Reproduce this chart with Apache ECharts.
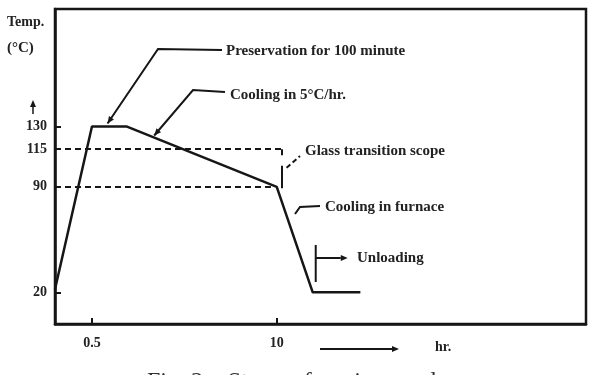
<!DOCTYPE html>
<html>
<head>
<meta charset="utf-8">
<script src="https://cdn.jsdelivr.net/npm/echarts@6/dist/echarts.min.js"></script>
<style>
html,body{margin:0;padding:0;background:#fff}
#main{width:594px;height:375px}
</style>
</head>
<body>
<div id="main"></div>
<script>
// curing cycle: time (hr) / temperature (°C)
var hours = [-1.4, 0.5, 2.3, 10, 11.85, 14.3];
var temps = [22, 130, 130, 90, 20, 20];
var yTicks = [20, 90, 115, 130];
var xTicks = [0.5, 10];
var glassTop = 115, glassBottom = 90;
var notes = ['Preservation for 100 minute', 'Cooling in 5°C/hr.', 'Glass transition scope', 'Cooling in furnace', 'Unloading'];

var xMin = -1.4, xMax = 25.9, yMin = -1, yMax = 208;
var ink = '#161616';
var serif = '"Liberation Serif", "DejaVu Serif", serif';

var myChart = echarts.init(document.getElementById('main'));

function pairs(){
    var out = [];
    for (var i = 0; i < hours.length; i++) out.push([hours[i], temps[i]]);
    return out;
}
// 曲线上某时刻的温度
function tempAt(h){
    for (var i = 1; i < hours.length; i++) {
        if (h <= hours[i]) {
            var k = (h - hours[i-1]) / (hours[i] - hours[i-1]);
            return temps[i-1] + k * (temps[i] - temps[i-1]);
        }
    }
    return temps[temps.length - 1];
}

var dashed = {type: [6, 4], width: 2, color: ink};
var solid = {type: 'solid', width: 2, color: ink};

var option = {
    animation: false,
    grid: {
        left: 55, right: 8, top: 9, bottom: 51,
        show: true,
        borderColor: ink,
        borderWidth: 2.5
    },
    xAxis: {
        type: 'value',
        min: xMin, max: xMax,
        axisLine: {show: true, onZero: false, lineStyle: {color: ink, width: 2.5}},
        axisTick: {show: true, inside: true, length: 6, customValues: xTicks, lineStyle: {color: ink, width: 2}},
        axisLabel: {
            customValues: xTicks,
            margin: 12,
            color: '#222',
            fontFamily: serif,
            fontWeight: 'bold',
            fontSize: 14,
            formatter: function(v){ return String(v); }
        },
        splitLine: {show: false}
    },
    yAxis: {
        type: 'value',
        min: yMin, max: yMax,
        axisLine: {show: true, onZero: false, lineStyle: {color: ink, width: 2.5}},
        axisTick: {show: true, inside: true, length: 6, customValues: yTicks, lineStyle: {color: ink, width: 2}},
        axisLabel: {
            customValues: yTicks,
            margin: 8,
            color: '#222',
            fontFamily: serif,
            fontWeight: 'bold',
            fontSize: 14
        },
        splitLine: {show: false}
    },
    series: [
        {
            type: 'line',
            data: pairs(),
            symbol: 'none',
            lineStyle: {color: ink, width: 2.5},
            z: 5,
            markLine: {
                silent: true,
                symbol: 'none',
                label: {show: false},
                lineStyle: dashed,
                data: [
                    [{coord: [xMin, glassTop]}, {coord: [10.3, glassTop]}],
                    [{coord: [xMin, glassBottom]}, {coord: [9.7, glassBottom]}],
                    // 玻璃化转变范围的括号
                    [{coord: [10.25, glassTop], lineStyle: solid}, {coord: [10.25, glassTop - 4]}],
                    [{coord: [10.25, glassBottom + 14], lineStyle: solid}, {coord: [10.25, glassBottom - 1]}]
                ]
            }
        }
    ]
};
myChart.setOption(option);

function px(h, t){ return myChart.convertToPixel({seriesIndex: 0}, [h, t]); }
function head(tip, from, len, w){
    var dx = tip[0] - from[0], dy = tip[1] - from[1];
    var d = Math.sqrt(dx*dx + dy*dy), ux = dx/d, uy = dy/d;
    var bx = tip[0] - ux*len, by = tip[1] - uy*len;
    return [tip, [bx - uy*w, by + ux*w], [bx + uy*w, by - ux*w]];
}
function line(points, style){
    return {type: 'polyline', shape: {points: points}, style: echarts.util.extend({stroke: ink, lineWidth: 2, fill: null}, style || {}), z: 10};
}
function arrowHead(tip, from){
    return {type: 'polygon', shape: {points: head(tip, from, 7, 3)}, style: {fill: ink}, z: 10};
}
function label(text, x, y){
    return {type: 'text', x: x, y: y, z: 10, style: {text: text, fill: '#222', font: 'bold 15px ' + serif, verticalAlign: 'middle'}};
}

var tip1 = px(1.3, 130); tip1[1] -= 3;
var tip2 = px(3.7, tempAt(3.7)); tip2[1] -= 2;
var br = px(10.25, glassBottom + 12);
var pE = px(hours[4], temps[4]);

var els = [
    // 纵轴标题
    {type: 'text', x: 7, y: 22, style: {text: 'Temp.', fill: '#222', font: 'bold 14px ' + serif, verticalAlign: 'middle'}},
    {type: 'text', x: 7, y: 48, style: {text: '(°C)', fill: '#222', font: 'bold 15px ' + serif, verticalAlign: 'middle'}},
    line([[33, 114], [33, 104]], {lineWidth: 1.5}),
    arrowHead([33, 100], [33, 110]),
    // 横轴标题
    line([[320, 349], [392, 349]], {lineWidth: 2}),
    arrowHead([399, 349], [390, 349]),
    {type: 'text', x: 435, y: 347, style: {text: 'hr.', fill: '#222', font: 'bold 14px ' + serif, verticalAlign: 'middle'}},

    label(notes[0], 226, 51),
    line([[222, 50], [158, 49], tip1]),
    arrowHead(tip1, [158, 49]),

    label(notes[1], 230, 95),
    line([[225, 92], [193, 90], tip2]),
    arrowHead(tip2, [193, 90]),

    label(notes[2], 305, 151),
    line([[br[0] + 5, br[1] - 1], [300, 156]], {lineDash: [5, 3]}),

    label(notes[3], 325, 207),
    line([[320, 206], [300, 207], [295, 214]]),

    label(notes[4], 357, 258),
    line([[pE[0] + 3, 245], [pE[0] + 3, 282]]),
    line([[pE[0] + 3, 258], [pE[0] + 28, 258]]),
    arrowHead([pE[0] + 35, 258], [pE[0] + 25, 258]),

    // 图题 (被裁切)
    {type: 'text', x: 147, y: 370, style: {text: 'Fig. 2 :  Steps  of  curing  cycle', fill: '#333', font: '24px ' + serif, verticalAlign: 'top'}}
];
myChart.setOption({graphic: {elements: els}});
</script>
</body>
</html>
